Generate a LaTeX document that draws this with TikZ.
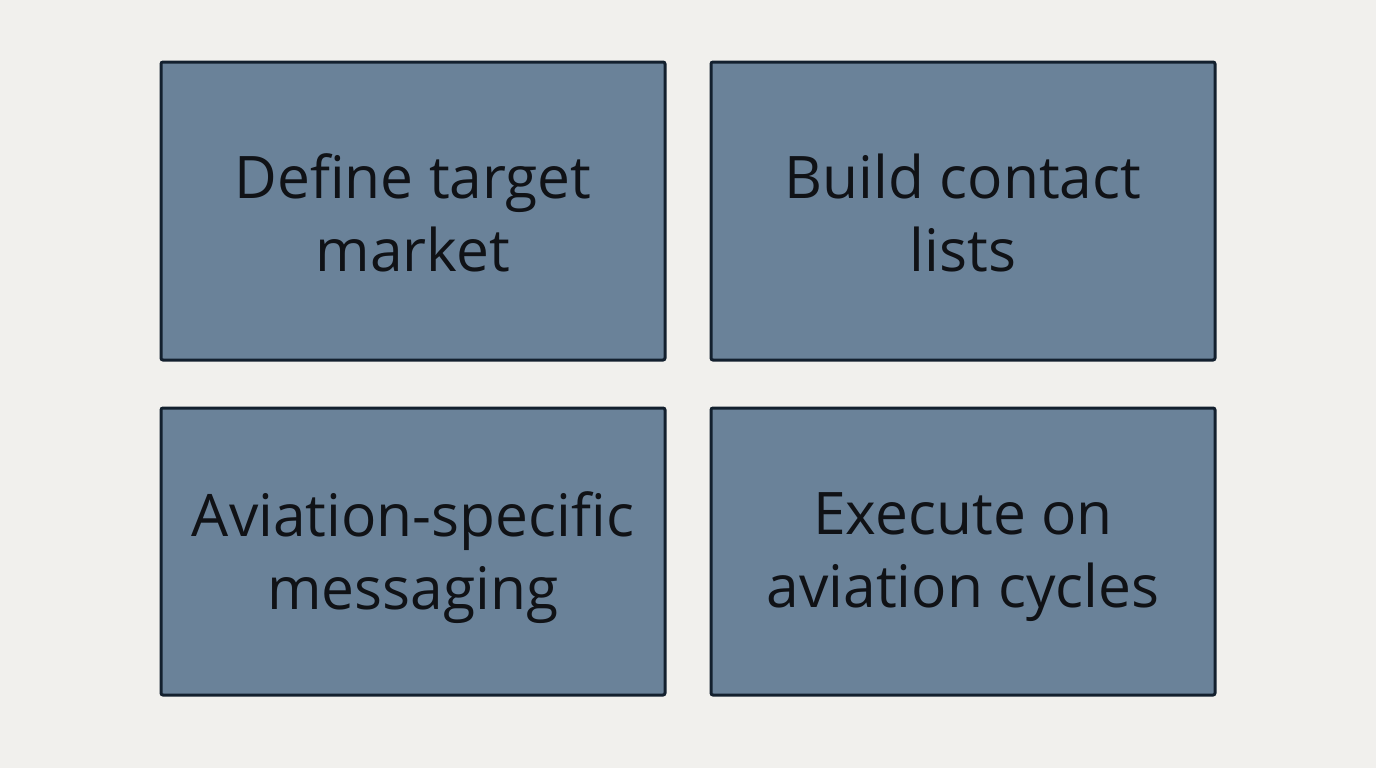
\documentclass[tikz,border=0pt]{standalone}
\usepackage{fontspec}
\setmainfont{Open Sans}
\definecolor{pagebg}{RGB}{241,240,237}
\definecolor{boxfill}{RGB}{106,130,153}
\definecolor{boxline}{RGB}{19,32,46}
\definecolor{boxtext}{RGB}{16,18,22}

\begin{document}
\begin{tikzpicture}[x=0.75pt,y=0.75pt,yscale=-1,xscale=1,
    stage/.style={draw=boxline, fill=boxfill, line width=2.25pt, rounded corners=1.5pt,
        minimum width=378pt, inner sep=0pt},
    caption/.style={inner sep=0pt, align=center, text=boxtext,
        font=\fontsize{44}{54.75}\selectfont}]
        %set diagram to the page size
        \fill[pagebg] (0,0) rectangle (1376,768);
        \useasboundingbox (0,0) rectangle (1376,768);
        
        %Shape: Rectangle [top row]
        \node [stage, minimum height=223.5pt] (define) at (413,211) {};
        \node [stage, minimum height=223.5pt] (build) at (963,211) {};
        %Shape: Rectangle [bottom row]
        \node [stage, minimum height=215.25pt] (messaging) at (413,551.5) {};
        \node [stage, minimum height=215.25pt] (execute) at (963,551.5) {};
        
        % Text Node
        \node [caption] (define text) at ([yshift=1.5pt]define.center) {Define target\\market};
        % Text Node
        \node [caption] (build text) at ([yshift=1.5pt]build.center) {Build contact\\lists};
        % Text Node
        \node [caption] (messaging text) at ([yshift=4.5pt]messaging.center) {Aviation-specific\\messaging};
        % Text Node
        \node [caption] (execute text) at ([yshift=4.5pt]execute.center) {Execute on\\aviation cycles};
        
        \end{tikzpicture}
\end{document}
